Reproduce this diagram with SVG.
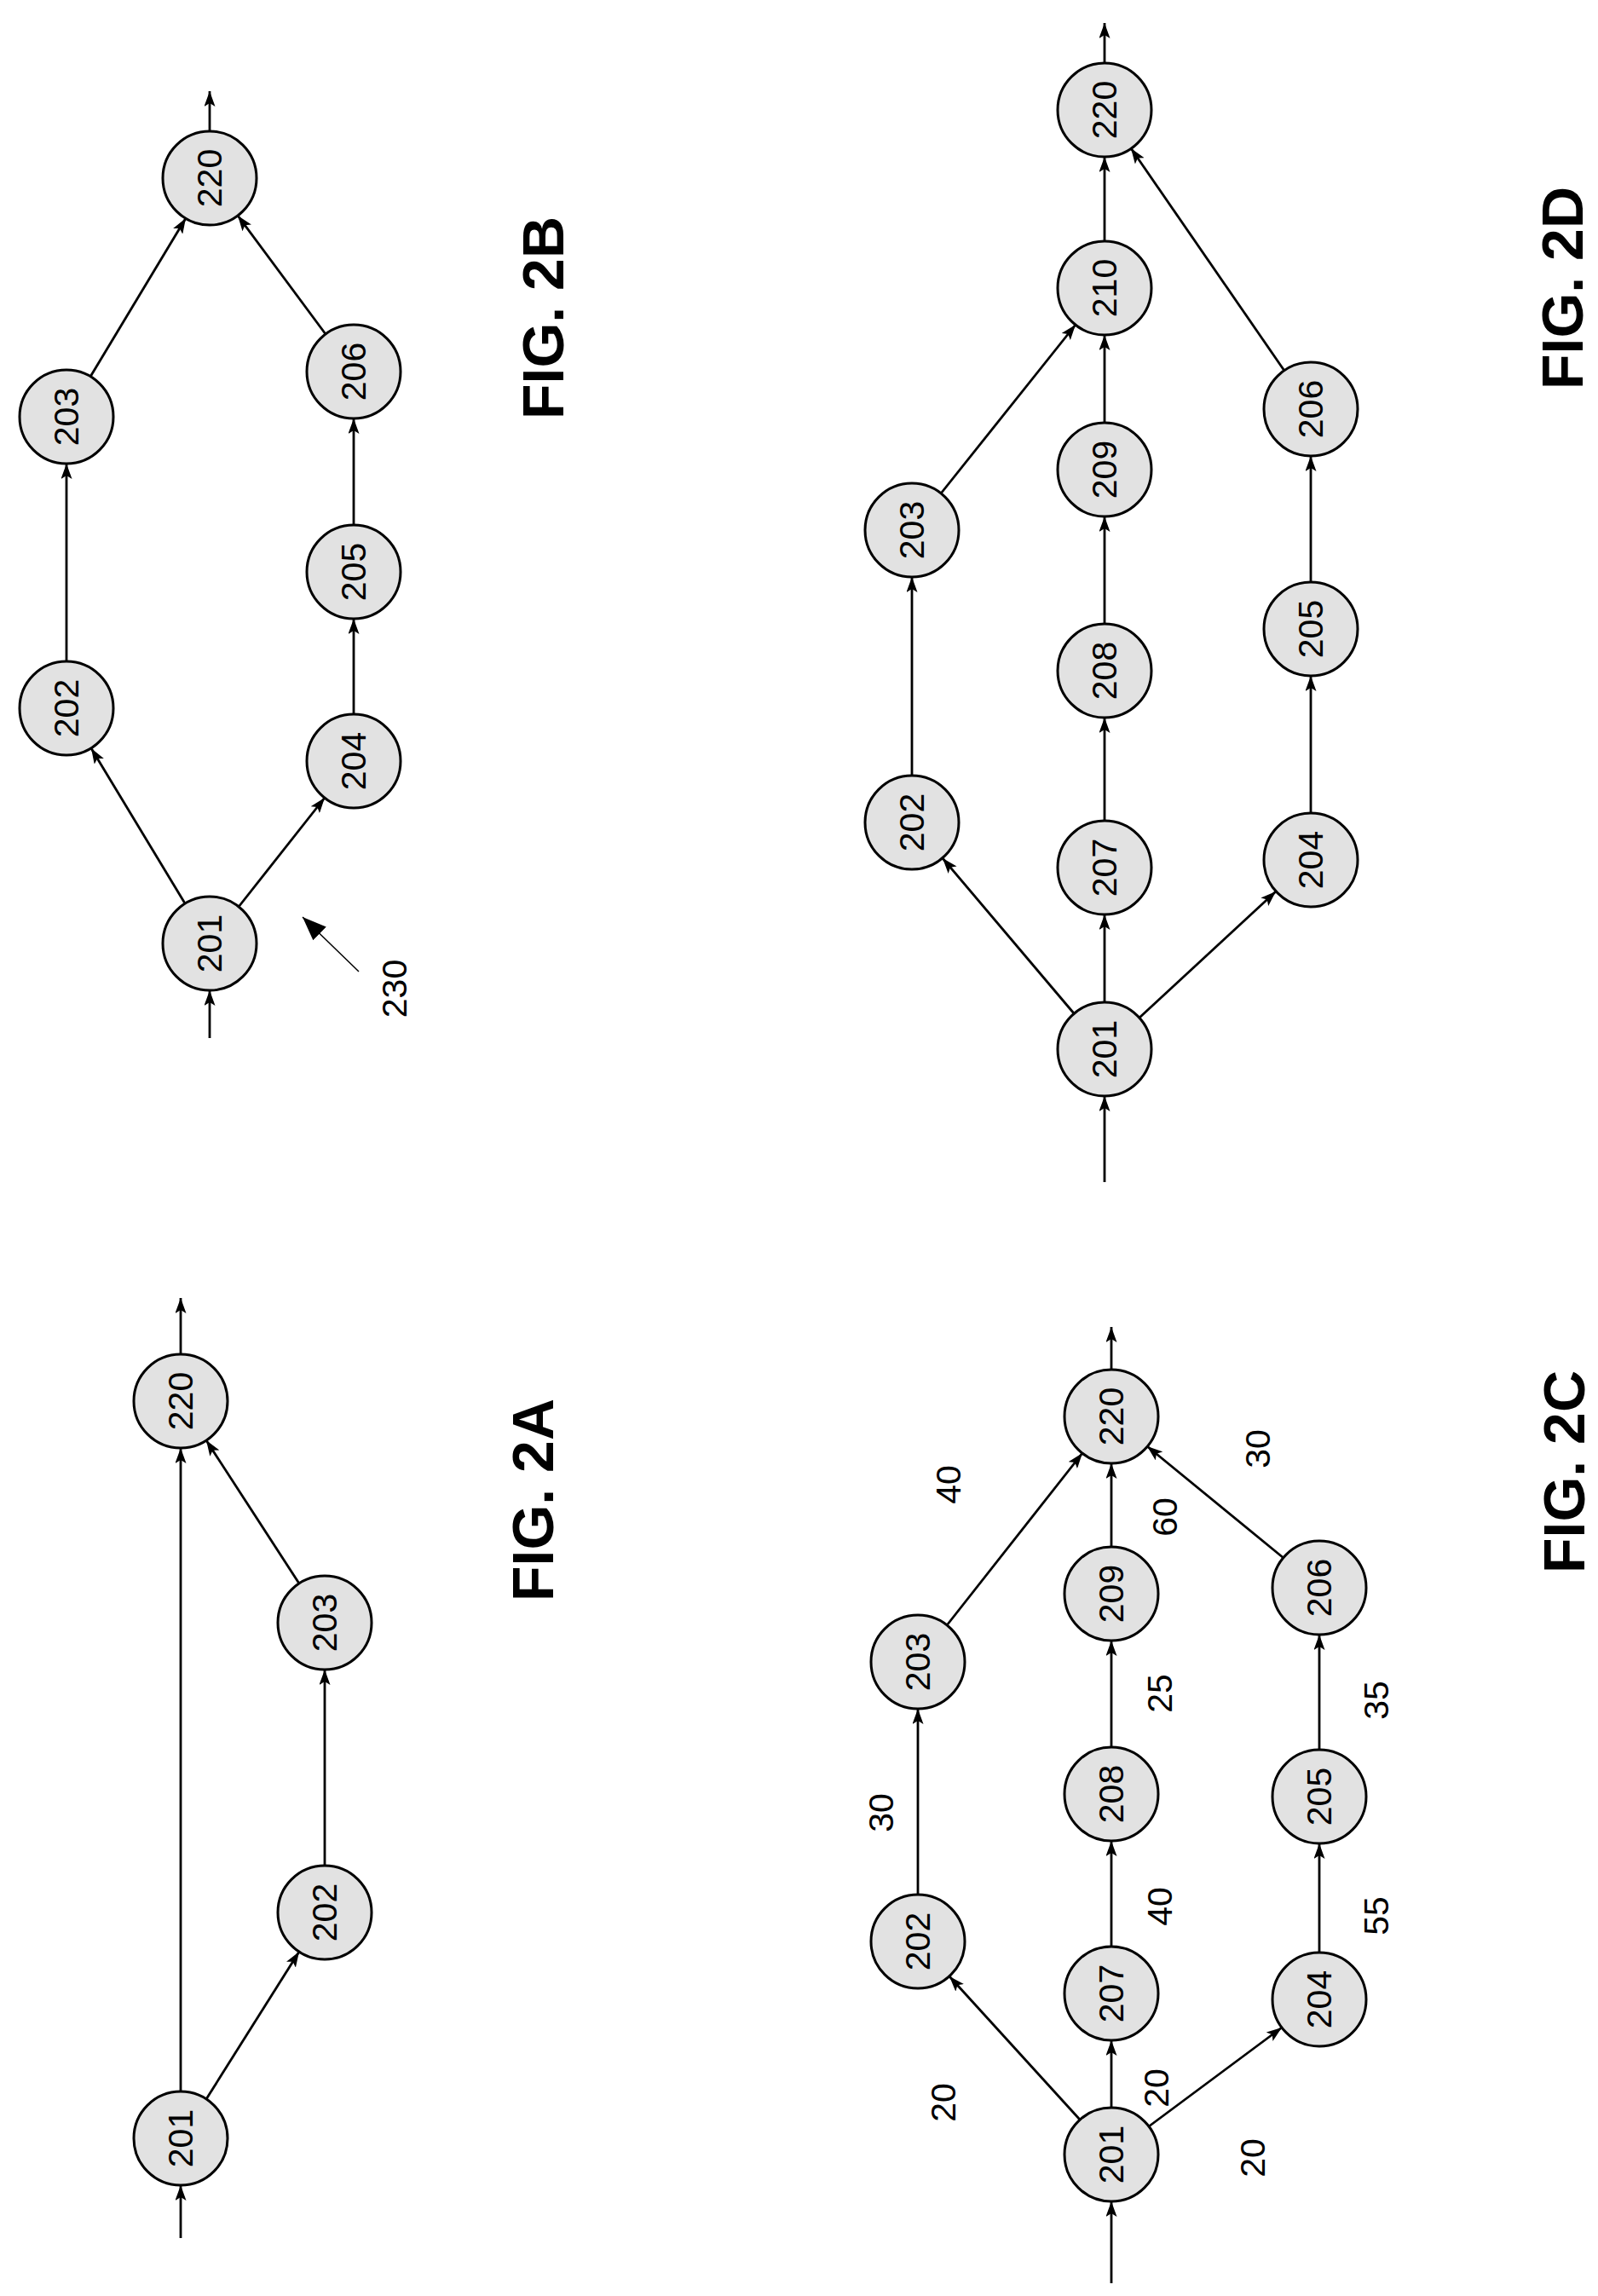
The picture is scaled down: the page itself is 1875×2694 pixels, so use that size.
<svg xmlns="http://www.w3.org/2000/svg" width="1875" height="2694" viewBox="0 0 1875 2694">
<style>
.n ellipse{fill:#e2e2e2;stroke:#000;stroke-width:3}
.n text,.l{font-family:"Liberation Sans",Arial,sans-serif;font-size:41px;text-anchor:middle;dominant-baseline:central}
.f{font-family:"Liberation Sans",Arial,sans-serif;font-size:68px;font-weight:bold;text-anchor:middle;dominant-baseline:central}
#edges line{stroke:#000;stroke-width:2.8;marker-end:url(#a)}
</style>
<defs>
<marker id="a" markerWidth="18" markerHeight="13" refX="18" refY="6.5" orient="auto" markerUnits="userSpaceOnUse"><path d="M0,0 L18,6.5 L0,13 L4,6.5 Z" fill="#000"/></marker>
<marker id="b" markerWidth="28" markerHeight="22" refX="28" refY="11" orient="auto" markerUnits="userSpaceOnUse"><path d="M0,0 L28,11 L0,22 Z" fill="#000"/></marker>
</defs>
<rect width="1875" height="2694" fill="#fff"/>
<g id="edges">
<line x1="212" y1="2454" x2="212" y2="1699"/>
<line x1="242" y1="2463" x2="351" y2="2290"/>
<line x1="381" y1="2189" x2="381" y2="1959"/>
<line x1="351" y1="1858" x2="242" y2="1690"/>
<line x1="212" y1="2626" x2="212" y2="2564"/>
<line x1="212" y1="1589" x2="212" y2="1523"/>
<line x1="217" y1="1060" x2="107" y2="878"/>
<line x1="78" y1="776" x2="78" y2="544"/>
<line x1="106" y1="442" x2="218" y2="256"/>
<line x1="280" y1="1064" x2="381" y2="936"/>
<line x1="415" y1="838" x2="415" y2="726"/>
<line x1="415" y1="616" x2="415" y2="491"/>
<line x1="382" y1="392" x2="279" y2="253"/>
<line x1="246" y1="1218" x2="246" y2="1162"/>
<line x1="246" y1="154" x2="246" y2="107"/>
<line x1="421" y1="1140" x2="355" y2="1076" style="stroke-width:1.5;marker-end:url(#b)"/>
<line x1="1267" y1="2487" x2="1114" y2="2319"/>
<line x1="1077" y1="2223" x2="1077" y2="2005"/>
<line x1="1111" y1="1907" x2="1270" y2="1705"/>
<line x1="1304" y1="2473" x2="1304" y2="2394"/>
<line x1="1304" y1="2284" x2="1304" y2="2160"/>
<line x1="1304" y1="2050" x2="1304" y2="1925"/>
<line x1="1304" y1="1815" x2="1304" y2="1717"/>
<line x1="1348" y1="2495" x2="1504" y2="2379"/>
<line x1="1548" y1="2291" x2="1548" y2="2163"/>
<line x1="1548" y1="2053" x2="1548" y2="1918"/>
<line x1="1506" y1="1828" x2="1346" y2="1697"/>
<line x1="1304" y1="2679" x2="1304" y2="2583"/>
<line x1="1304" y1="1607" x2="1304" y2="1557"/>
<line x1="1260" y1="1189" x2="1106" y2="1007"/>
<line x1="1070" y1="910" x2="1070" y2="677"/>
<line x1="1104" y1="579" x2="1262" y2="381"/>
<line x1="1296" y1="1176" x2="1296" y2="1073"/>
<line x1="1296" y1="963" x2="1296" y2="842"/>
<line x1="1296" y1="732" x2="1296" y2="606"/>
<line x1="1296" y1="496" x2="1296" y2="393"/>
<line x1="1296" y1="283" x2="1296" y2="184"/>
<line x1="1337" y1="1194" x2="1497" y2="1046"/>
<line x1="1538" y1="954" x2="1538" y2="793"/>
<line x1="1538" y1="683" x2="1538" y2="535"/>
<line x1="1507" y1="435" x2="1327" y2="174"/>
<line x1="1296" y1="1387" x2="1296" y2="1286"/>
<line x1="1296" y1="74" x2="1296" y2="27"/>
</g>
<g id="a201" class="n"><ellipse cx="212" cy="2509" rx="55" ry="55"/><text transform="rotate(-90 212 2509)" x="212" y="2509">201</text></g>
<g id="a202" class="n"><ellipse cx="381" cy="2244" rx="55" ry="55"/><text transform="rotate(-90 381 2244)" x="381" y="2244">202</text></g>
<g id="a203" class="n"><ellipse cx="381" cy="1904" rx="55" ry="55"/><text transform="rotate(-90 381 1904)" x="381" y="1904">203</text></g>
<g id="a220" class="n"><ellipse cx="212" cy="1644" rx="55" ry="55"/><text transform="rotate(-90 212 1644)" x="212" y="1644">220</text></g>
<text class="f" transform="rotate(-90 625 1760)" x="625" y="1760">FIG. 2A</text>
<g id="b201" class="n"><ellipse cx="246" cy="1107" rx="55" ry="55"/><text transform="rotate(-90 246 1107)" x="246" y="1107">201</text></g>
<g id="b202" class="n"><ellipse cx="78" cy="831" rx="55" ry="55"/><text transform="rotate(-90 78 831)" x="78" y="831">202</text></g>
<g id="b203" class="n"><ellipse cx="78" cy="489" rx="55" ry="55"/><text transform="rotate(-90 78 489)" x="78" y="489">203</text></g>
<g id="b220" class="n"><ellipse cx="246" cy="209" rx="55" ry="55"/><text transform="rotate(-90 246 209)" x="246" y="209">220</text></g>
<g id="b204" class="n"><ellipse cx="415" cy="893" rx="55" ry="55"/><text transform="rotate(-90 415 893)" x="415" y="893">204</text></g>
<g id="b205" class="n"><ellipse cx="415" cy="671" rx="55" ry="55"/><text transform="rotate(-90 415 671)" x="415" y="671">205</text></g>
<g id="b206" class="n"><ellipse cx="415" cy="436" rx="55" ry="55"/><text transform="rotate(-90 415 436)" x="415" y="436">206</text></g>
<text class="l" transform="rotate(-90 463 1160)" x="463" y="1160">230</text>
<text class="f" transform="rotate(-90 637 373)" x="637" y="373">FIG. 2B</text>
<g id="c201" class="n"><ellipse cx="1304" cy="2528" rx="55" ry="55"/><text transform="rotate(-90 1304 2528)" x="1304" y="2528">201</text></g>
<g id="c207" class="n"><ellipse cx="1304" cy="2339" rx="55" ry="55"/><text transform="rotate(-90 1304 2339)" x="1304" y="2339">207</text></g>
<g id="c208" class="n"><ellipse cx="1304" cy="2105" rx="55" ry="55"/><text transform="rotate(-90 1304 2105)" x="1304" y="2105">208</text></g>
<g id="c209" class="n"><ellipse cx="1304" cy="1870" rx="55" ry="55"/><text transform="rotate(-90 1304 1870)" x="1304" y="1870">209</text></g>
<g id="c220" class="n"><ellipse cx="1304" cy="1662" rx="55" ry="55"/><text transform="rotate(-90 1304 1662)" x="1304" y="1662">220</text></g>
<g id="c202" class="n"><ellipse cx="1077" cy="2278" rx="55" ry="55"/><text transform="rotate(-90 1077 2278)" x="1077" y="2278">202</text></g>
<g id="c203" class="n"><ellipse cx="1077" cy="1950" rx="55" ry="55"/><text transform="rotate(-90 1077 1950)" x="1077" y="1950">203</text></g>
<g id="c204" class="n"><ellipse cx="1548" cy="2346" rx="55" ry="55"/><text transform="rotate(-90 1548 2346)" x="1548" y="2346">204</text></g>
<g id="c205" class="n"><ellipse cx="1548" cy="2108" rx="55" ry="55"/><text transform="rotate(-90 1548 2108)" x="1548" y="2108">205</text></g>
<g id="c206" class="n"><ellipse cx="1548" cy="1863" rx="55" ry="55"/><text transform="rotate(-90 1548 1863)" x="1548" y="1863">206</text></g>
<g id="clabels">
<text class="l" transform="rotate(-90 1107 2467)" x="1107" y="2467">20</text>
<text class="l" transform="rotate(-90 1357 2450)" x="1357" y="2450">20</text>
<text class="l" transform="rotate(-90 1470 2532)" x="1470" y="2532">20</text>
<text class="l" transform="rotate(-90 1361 2237)" x="1361" y="2237">40</text>
<text class="l" transform="rotate(-90 1615 2248)" x="1615" y="2248">55</text>
<text class="l" transform="rotate(-90 1034 2127)" x="1034" y="2127">30</text>
<text class="l" transform="rotate(-90 1361 1987)" x="1361" y="1987">25</text>
<text class="l" transform="rotate(-90 1615 1995)" x="1615" y="1995">35</text>
<text class="l" transform="rotate(-90 1113 1742)" x="1113" y="1742">40</text>
<text class="l" transform="rotate(-90 1367 1780)" x="1367" y="1780">60</text>
<text class="l" transform="rotate(-90 1476 1700)" x="1476" y="1700">30</text>
</g>
<text class="f" transform="rotate(-90 1835 1727)" x="1835" y="1727">FIG. 2C</text>
<g id="d201" class="n"><ellipse cx="1296" cy="1231" rx="55" ry="55"/><text transform="rotate(-90 1296 1231)" x="1296" y="1231">201</text></g>
<g id="d202" class="n"><ellipse cx="1070" cy="965" rx="55" ry="55"/><text transform="rotate(-90 1070 965)" x="1070" y="965">202</text></g>
<g id="d203" class="n"><ellipse cx="1070" cy="622" rx="55" ry="55"/><text transform="rotate(-90 1070 622)" x="1070" y="622">203</text></g>
<g id="d207" class="n"><ellipse cx="1296" cy="1018" rx="55" ry="55"/><text transform="rotate(-90 1296 1018)" x="1296" y="1018">207</text></g>
<g id="d208" class="n"><ellipse cx="1296" cy="787" rx="55" ry="55"/><text transform="rotate(-90 1296 787)" x="1296" y="787">208</text></g>
<g id="d209" class="n"><ellipse cx="1296" cy="551" rx="55" ry="55"/><text transform="rotate(-90 1296 551)" x="1296" y="551">209</text></g>
<g id="d210" class="n"><ellipse cx="1296" cy="338" rx="55" ry="55"/><text transform="rotate(-90 1296 338)" x="1296" y="338">210</text></g>
<g id="d220" class="n"><ellipse cx="1296" cy="129" rx="55" ry="55"/><text transform="rotate(-90 1296 129)" x="1296" y="129">220</text></g>
<g id="d204" class="n"><ellipse cx="1538" cy="1009" rx="55" ry="55"/><text transform="rotate(-90 1538 1009)" x="1538" y="1009">204</text></g>
<g id="d205" class="n"><ellipse cx="1538" cy="738" rx="55" ry="55"/><text transform="rotate(-90 1538 738)" x="1538" y="738">205</text></g>
<g id="d206" class="n"><ellipse cx="1538" cy="480" rx="55" ry="55"/><text transform="rotate(-90 1538 480)" x="1538" y="480">206</text></g>
<text class="f" transform="rotate(-90 1833 338)" x="1833" y="338">FIG. 2D</text>
</svg>
